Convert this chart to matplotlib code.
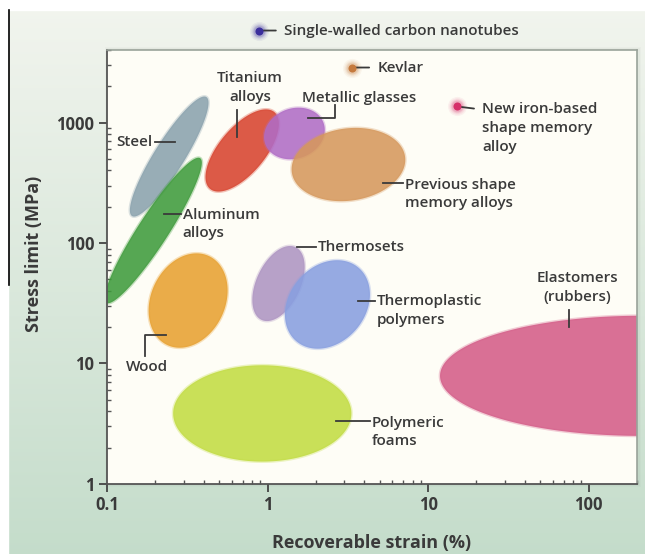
import numpy as np
import matplotlib.pyplot as plt
from matplotlib.lines import Line2D
from matplotlib.patches import Rectangle
from matplotlib.ticker import FixedLocator, LogLocator, NullFormatter

plt.rcParams['font.family'] = ['Open Sans', 'DejaVu Sans']

# material families: centre of each region (recoverable strain %, stress limit MPa)
materials = ["Steel", "Aluminum alloys", "Titanium alloys", "Metallic glasses",
             "Previous shape memory alloys", "Thermosets", "Thermoplastic polymers",
             "Wood", "Polymeric foams", "Elastomers (rubbers)"]
strain_mid = [0.244, 0.194, 0.695, 1.47, 3.19, 1.17, 2.36, 0.32, 0.927, 211]
stress_mid = [522, 127, 586, 811, 448, 46.1, 30.9, 33.3, 3.85, 7.9]
# half spread of each region along its long / short direction (decades of strain) and tilt
spread_long = [0.437, 0.537, 0.312, 0.193, 0.356, 0.25, 0.30, 0.306, 0.555, 1.25]
spread_short = [0.094, 0.094, 0.143, 0.156, 0.225, 0.137, 0.237, 0.231, 0.30, 0.374]
tilt = [58, 57, 50, 20, 8, 65, 50, 65, 0, 0]
colors = ["#8aa2ae", "#3f9b3c", "#d8432f", "#b06cc6", "#d6985c", "#ae94c2",
          "#889fe0", "#e8a131", "#c2dc42", "#d45c88"]

# single materials shown as points
points = ["Single-walled carbon nanotubes", "Kevlar", "New iron-based\nshape memory\nalloy"]
point_strain = [0.887, 3.38, 15.2]
point_stress = [5800, 2860, 1358]
point_colors = ["#3b2e9c", "#c57a3e", "#d6306a"]

x_ticks = [0.1, 1, 10, 100]
x_ticklabels = ["0.1", "1", "10", "100"]
y_ticks = [1, 10, 100, 1000]
y_ticklabels = ["1", "10", "100", "1000"]

xmin, xmax = 0.1, 200
ymin, ymax = 1, 4000

fig = plt.figure(figsize=(6.45, 5.54), dpi=100)

# pale green backdrop
bg = fig.add_axes([0, 0, 1, 1], zorder=-10)
grad = np.linspace(0, 1, 256)[:, None, None]
top = np.array([0.95, 0.96, 0.935])
bot = np.array([0.77, 0.865, 0.795])
img = top * (1 - grad) + bot * grad
bg.imshow(img, aspect='auto', extent=[0, 1, 0, 1])
bg.set_xlim(0, 1)
bg.set_ylim(0, 1)
bg.axis('off')
fig.add_artist(Rectangle((0, 0.982), 1, 0.02, transform=fig.transFigure,
                         color='white', zorder=-5))
fig.add_artist(Rectangle((0, 0), 0.0125, 1, transform=fig.transFigure,
                         color='white', zorder=-5))
fig.add_artist(Line2D([0.014, 0.014], [0.486, 0.982], transform=fig.transFigure,
                      color='black', lw=1.2))

pos = [0.1659, 0.1264, 0.8217, 0.7834]

# faint shadow round the plotting panel
for i, a in enumerate([0.03, 0.04, 0.05]):
    g = (3 - i) * 0.003
    fig.add_artist(Rectangle((pos[0] - g * 0.3, pos[1] - g * 0.6),
                             pos[2] + g * 1.0, pos[3] + g * 1.1,
                             transform=fig.transFigure, color='#5f6f60',
                             alpha=a, lw=0, zorder=-4))

ax = fig.add_axes(pos)
ax.set_facecolor('#fefdf6')
ax.set_xscale('log')
ax.set_yscale('log')
ax.set_xlim(xmin, xmax)
ax.set_ylim(ymin, ymax)

# pixels per decade on each axis, so ellipses keep their shape on screen
W = pos[2] * fig.get_figwidth() * fig.dpi
H = pos[3] * fig.get_figheight() * fig.dpi
k = (W / np.log10(xmax / xmin)) / (H / np.log10(ymax / ymin))

t = np.linspace(0, 2 * np.pi, 240)
for x, y, a, b, ang, c in zip(strain_mid, stress_mid, spread_long, spread_short, tilt, colors):
    th = np.radians(ang)
    u = a * np.cos(t)
    v = b * np.sin(t)
    dx = u * np.cos(th) - v * np.sin(th)
    dy = (u * np.sin(th) + v * np.cos(th)) * k
    ax.fill(x * 10 ** dx, y * 10 ** dy, color=c, alpha=0.88, lw=0, zorder=2)
    ax.fill(x * 10 ** dx, y * 10 ** dy, facecolor='none', edgecolor=c,
            alpha=0.3, lw=2.0, zorder=2)

# points with a blurred halo
for x, y, c in zip(point_strain, point_stress, point_colors):
    for s, a in zip([190, 140, 100, 70], [0.06, 0.08, 0.12, 0.18]):
        ax.scatter([x], [y], s=s, color=c, alpha=a, lw=0, zorder=3, clip_on=False)
    ax.scatter([x], [y], s=34, color=c, lw=0, zorder=4, clip_on=False)

txt = dict(fontsize=11, color='#3a3a3a', linespacing=1.42, fontweight=600)
lead = dict(color='#3a3a3a', lw=1.3, transform=ax.transAxes, zorder=5, clip_on=False)

for name, x, y, rel, dy in zip(points, point_strain, point_stress,
                               [0.5, 0.5, 0.86], [0, 0, -15.5]):
    ax.annotate(name, xy=(x, y), xytext=(18, dy), textcoords='offset points',
                ha='left', va='center', annotation_clip=False,
                arrowprops=dict(arrowstyle='-', color='#3a3a3a', lw=1.3,
                                shrinkA=4, shrinkB=1, relpos=(0, rel)),
                **txt)

# labels for the regions
ax.text(0.085, 0.788, "Steel", ha='right', va='center', transform=ax.transAxes, **txt)
ax.plot([0.091, 0.128], [0.788, 0.788], **lead)
ax.text(0.143, 0.599, "Aluminum\nalloys", ha='left', va='center', transform=ax.transAxes, **txt)
ax.plot([0.107, 0.140], [0.622, 0.622], **lead)
ax.text(0.27, 0.914, "Titanium\nalloys", ha='center', va='center', transform=ax.transAxes, **txt)
ax.plot([0.245, 0.245], [0.862, 0.800], **lead)
ax.text(0.368, 0.889, "Metallic glasses", ha='left', va='center', transform=ax.transAxes, **txt)
ax.plot([0.430, 0.430, 0.379], [0.873, 0.843, 0.843], **lead)
ax.text(0.562, 0.668, "Previous shape\nmemory alloys", ha='left', va='center',
        transform=ax.transAxes, **txt)
ax.plot([0.521, 0.558], [0.694, 0.694], **lead)
ax.text(0.398, 0.546, "Thermosets", ha='left', va='center', transform=ax.transAxes, **txt)
ax.plot([0.358, 0.394], [0.546, 0.546], **lead)
ax.text(0.509, 0.399, "Thermoplastic\npolymers", ha='left', va='center',
        transform=ax.transAxes, **txt)
ax.plot([0.474, 0.506], [0.422, 0.422], **lead)
ax.text(0.0755, 0.270, "Wood", ha='center', va='center', transform=ax.transAxes, **txt)
ax.plot([0.0717, 0.0717, 0.111], [0.295, 0.343, 0.343], **lead)
ax.text(0.50, 0.12, "Polymeric\nfoams", ha='left', va='center', transform=ax.transAxes, **txt)
ax.plot([0.432, 0.496], [0.145, 0.145], **lead)
ax.text(0.887, 0.452, "Elastomers\n(rubbers)", ha='center', va='center',
        transform=ax.transAxes, **txt)
ax.plot([0.872, 0.872], [0.401, 0.362], **lead)

# axes and ticks
ax.xaxis.set_major_locator(FixedLocator(x_ticks))
ax.set_xticklabels(x_ticklabels)
ax.yaxis.set_major_locator(FixedLocator(y_ticks))
ax.set_yticklabels(y_ticklabels)
ax.xaxis.set_minor_locator(LogLocator(base=10, subs=np.arange(2, 10)))
ax.yaxis.set_minor_locator(LogLocator(base=10, subs=np.arange(2, 10)))
ax.xaxis.set_minor_formatter(NullFormatter())
ax.yaxis.set_minor_formatter(NullFormatter())
ax.tick_params(which='major', direction='out', length=6, width=1.3, color='#444',
               labelsize=12, labelcolor='#3a3a3a', pad=3)
ax.tick_params(which='minor', direction='in', length=3, width=1.0, color='#555')
for lab in ax.get_xticklabels() + ax.get_yticklabels():
    lab.set_fontweight('bold')

for s in ['left', 'bottom']:
    ax.spines[s].set_color('#555')
    ax.spines[s].set_linewidth(1.3)
for s in ['top', 'right']:
    ax.spines[s].set_color('#9aa39a')
    ax.spines[s].set_linewidth(1.2)

ax.set_xlabel("Recoverable strain (%)", fontsize=13, fontweight='bold', color='#3a3a3a')
ax.set_ylabel("Stress limit (MPa)", fontsize=13, fontweight='bold', color='#3a3a3a')
ax.xaxis.set_label_coords(0.5, -0.115)
ax.yaxis.set_label_coords(-0.12, 0.53)

fig.savefig("out.png", dpi=100)
